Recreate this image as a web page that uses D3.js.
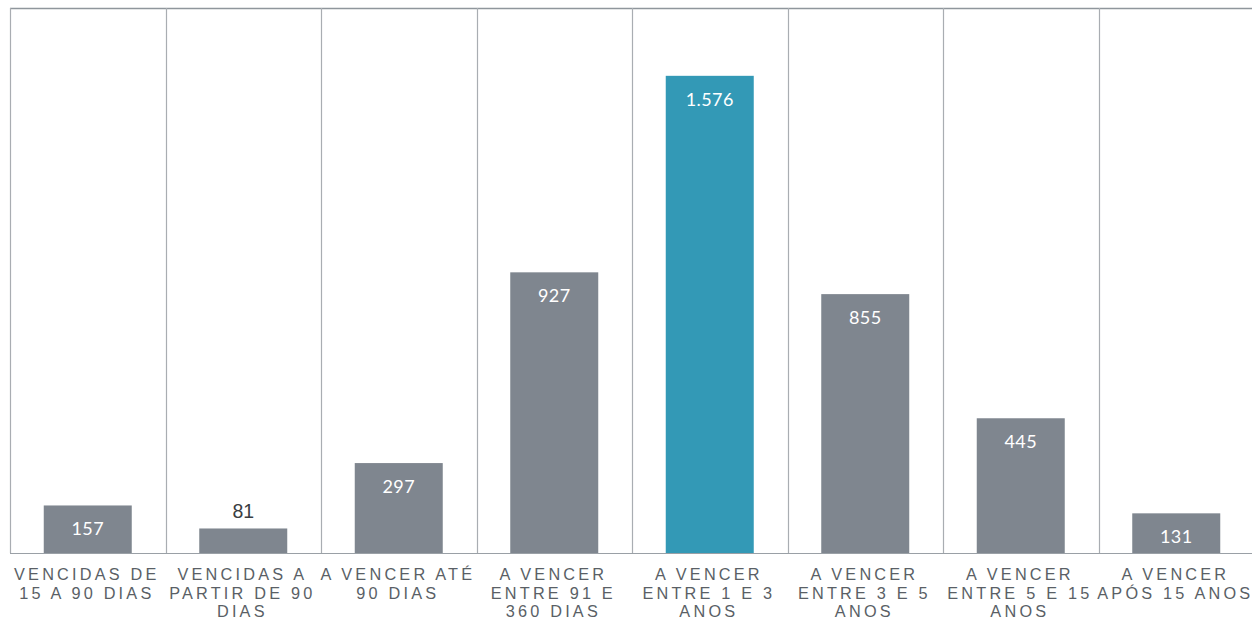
<!DOCTYPE html>
<html>
<head>
<meta charset="utf-8">
<script src="https://cdn.jsdelivr.net/npm/d3@7"></script>
<style>
  html, body { margin: 0; padding: 0; background: #fff; }
  svg { display: block; }
</style>
</head>
<body>
<svg id="chart" width="1252" height="621"></svg>
<script>
const categories = [
  "VENCIDAS DE 15 A 90 DIAS",
  "VENCIDAS A PARTIR DE 90 DIAS",
  "A VENCER ATÉ 90 DIAS",
  "A VENCER ENTRE 91 E 360 DIAS",
  "A VENCER ENTRE 1 E 3 ANOS",
  "A VENCER ENTRE 3 E 5 ANOS",
  "A VENCER ENTRE 5 E 15 ANOS",
  "A VENCER APÓS 15 ANOS"
];
const values = [157, 81, 297, 927, 1576, 855, 445, 131];
const valueLabels = ["157", "81", "297", "927", "1.576", "855", "445", "131"];
const highlighted = ["A VENCER ENTRE 1 E 3 ANOS"];
const yDomain = [0, 1800];

const svg = d3.select("#chart");
const margin = { left: 10, right: -2, top: 8, bottom: 68 };
const W = 1252, H = 621;
const x = d3.scaleBand().domain(categories).range([margin.left, W - margin.right]).paddingInner(0).paddingOuter(0);
const y = d3.scaleLinear().domain(yDomain).range([H - margin.bottom, margin.top]);
const barW = 88;

// frame: top line
svg.append("line")
  .attr("x1", margin.left).attr("x2", W)
  .attr("y1", y(yDomain[1]) + 0.5).attr("y2", y(yDomain[1]) + 0.5)
  .attr("stroke", "#8f969c").attr("stroke-width", 1.3);

// vertical gridlines at band boundaries
svg.append("g").selectAll("line")
  .data(categories)
  .join("line")
  .attr("x1", d => Math.round(x(d)) + 0.5)
  .attr("x2", d => Math.round(x(d)) + 0.5)
  .attr("y1", y(yDomain[1]))
  .attr("y2", y(0))
  .attr("stroke", "#a9adb2").attr("stroke-width", 1.2);

// bars
const cx = d => x(d) + x.bandwidth() / 2;
svg.append("g").selectAll("rect")
  .data(categories)
  .join("rect")
  .attr("x", d => cx(d) - barW / 2)
  .attr("width", barW)
  .attr("y", (d, i) => y(values[i]))
  .attr("height", (d, i) => y(0) - y(values[i]))
  .attr("fill", d => highlighted.includes(d) ? "#3399b6" : "#7f868f");

// baseline
svg.append("line")
  .attr("x1", margin.left).attr("x2", W)
  .attr("y1", y(0) + 0.5).attr("y2", y(0) + 0.5)
  .attr("stroke", "#9aa0a6").attr("stroke-width", 1.2);

// value labels
const inside = i => (y(0) - y(values[i])) > 35;
svg.append("g").selectAll("text")
  .data(categories)
  .join("text")
  .attr("x", cx)
  .attr("y", (d, i) => inside(i) ? y(values[i]) + 30 : y(values[i]) - 10)
  .attr("text-anchor", "middle")
  .attr("font-family", (d, i) => inside(i) ? "Lato, 'Open Sans', sans-serif" : "'Liberation Sans', Arial, sans-serif")
  .attr("font-size", (d, i) => inside(i) ? 18 : 19.5)
  .attr("letter-spacing", (d, i) => inside(i) ? 0.4 : 0)
  .attr("fill", (d, i) => inside(i) ? "#ffffff" : "#3a3d42")
  .text((d, i) => valueLabels[i]);

// category labels with wrapping
const labelG = svg.append("g");
const maxW = x.bandwidth() + 6;
const ls = 3.2;
categories.forEach(cat => {
  const lx = cx(cat) - 2.5 + ls / 2;
  const t = labelG.append("text")
    .attr("x", lx)
    .attr("y", y(0) + 27)
    .attr("text-anchor", "middle")
    .attr("font-family", "'Liberation Sans', Arial, sans-serif")
    .attr("font-size", 16.3)
    .attr("letter-spacing", ls)
    .attr("fill", "#5a5f66");
  const words = cat.split(" ");
  let line = [];
  let tspan = t.append("tspan").attr("x", lx).attr("dy", 0);
  words.forEach(w => {
    line.push(w);
    tspan.text(line.join(" "));
    if (tspan.node().getComputedTextLength() > maxW && line.length > 1) {
      line.pop();
      tspan.text(line.join(" "));
      line = [w];
      tspan = t.append("tspan").attr("x", lx).attr("dy", 18.5).text(w);
    }
  });
});
</script>
</body>
</html>
